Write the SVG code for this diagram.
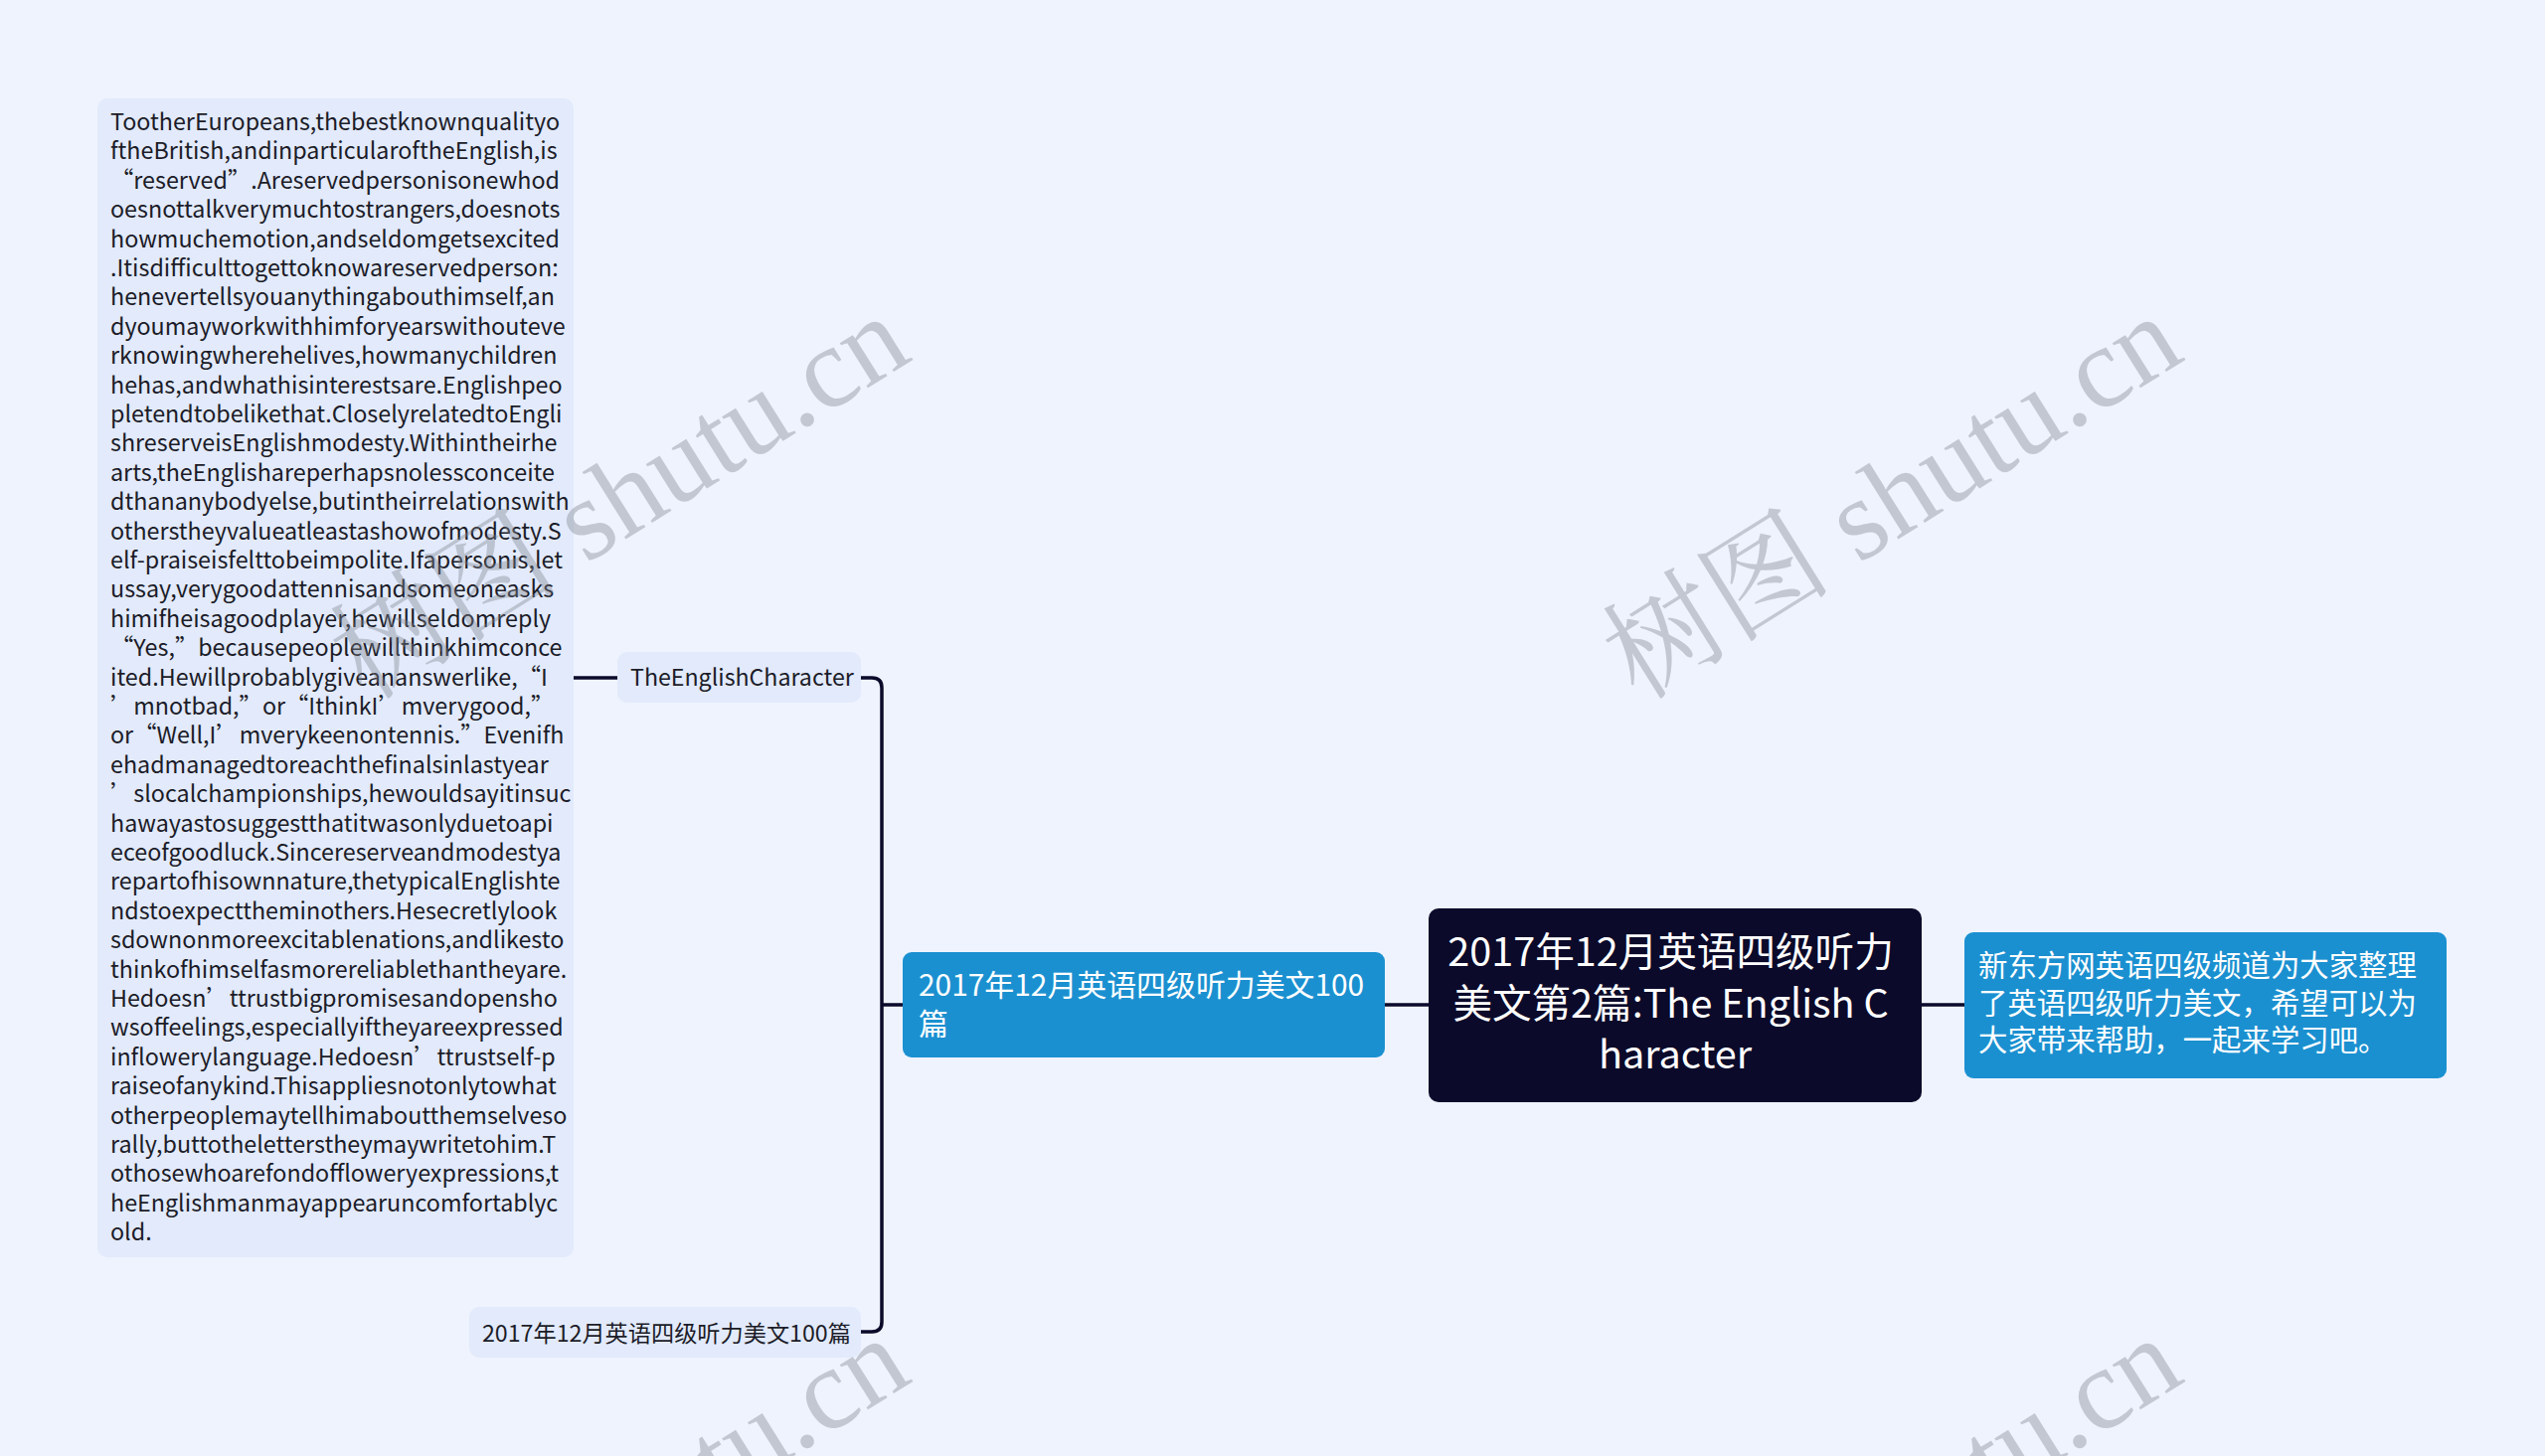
<svg xmlns="http://www.w3.org/2000/svg" width="2560" height="1465" viewBox="0 0 2560 1465">
<style>
.bg{fill:#eef3fd}
.soft{fill:#e2eafb}
.blue{fill:#1b90d0}
.root{fill:#0b0a2a}
.t{font-family:"Noto Sans CJK SC","Noto Sans",sans-serif}
.body{font-size:23.3px;fill:#1c1c28}
.lbl{font-size:23.2px;fill:#1c1c28}
.wt{fill:#ffffff}
.conn{fill:none;stroke:#0b0a2a;stroke-width:3.5}
.wm{font-family:"Liberation Serif","Noto Serif CJK SC",serif;font-size:116px;fill:#7d828c;opacity:0.38}
</style>
<rect class="bg" x="0" y="0" width="2560" height="1465"/>
<g id="connectors">
<path class="conn" d="M577 682 H621"/>
<path class="conn" d="M866 682 H877 Q887 682 887 692 V1330 Q887 1340 877 1340 H866"/>
<path class="conn" d="M887 1011 H908"/>
<path class="conn" d="M1393 1011 H1437"/>
<path class="conn" d="M1933 1011 H1976"/>
</g>
<g id="node-text">
<rect class="soft" x="98" y="99" width="479" height="1166" rx="10"/>
<text class="t body" x="111">
<tspan x="111" y="131">TootherEuropeans,thebestknownqualityo</tspan>
<tspan x="111" y="160.4">ftheBritish,andinparticularoftheEnglish,is</tspan>
<tspan x="111" y="189.8">“reserved”.Areservedpersonisonewhod</tspan>
<tspan x="111" y="219.2">oesnottalkverymuchtostrangers,doesnots</tspan>
<tspan x="111" y="248.6">howmuchemotion,andseldomgetsexcited</tspan>
<tspan x="111" y="278">.Itisdifficulttogettoknowareservedperson:</tspan>
<tspan x="111" y="307.4">henevertellsyouanythingabouthimself,an</tspan>
<tspan x="111" y="336.8">dyoumayworkwithhimforyearswithouteve</tspan>
<tspan x="111" y="366.2">rknowingwherehelives,howmanychildren</tspan>
<tspan x="111" y="395.6">hehas,andwhathisinterestsare.Englishpeo</tspan>
<tspan x="111" y="425">pletendtobelikethat.CloselyrelatedtoEngli</tspan>
<tspan x="111" y="454.4">shreserveisEnglishmodesty.Withintheirhe</tspan>
<tspan x="111" y="483.8">arts,theEnglishareperhapsnolessconceite</tspan>
<tspan x="111" y="513.2">dthananybodyelse,butintheirrelationswith</tspan>
<tspan x="111" y="542.6">otherstheyvalueatleastashowofmodesty.S</tspan>
<tspan x="111" y="572">elf-praiseisfelttobeimpolite.Ifapersonis,let</tspan>
<tspan x="111" y="601.4">ussay,verygoodattennisandsomeoneasks</tspan>
<tspan x="111" y="630.8">himifheisagoodplayer,hewillseldomreply</tspan>
<tspan x="111" y="660.2">“Yes,”becausepeoplewillthinkhimconce</tspan>
<tspan x="111" y="689.6">ited.Hewillprobablygiveananswerlike,“I</tspan>
<tspan x="111" y="719">’mnotbad,”or“IthinkI’mverygood,”</tspan>
<tspan x="111" y="748.4">or“Well,I’mverykeenontennis.”Evenifh</tspan>
<tspan x="111" y="777.8">ehadmanagedtoreachthefinalsinlastyear</tspan>
<tspan x="111" y="807.2">’slocalchampionships,hewouldsayitinsuc</tspan>
<tspan x="111" y="836.6">hawayastosuggestthatitwasonlyduetoapi</tspan>
<tspan x="111" y="866">eceofgoodluck.Sincereserveandmodestya</tspan>
<tspan x="111" y="895.4">repartofhisownnature,thetypicalEnglishte</tspan>
<tspan x="111" y="924.8">ndstoexpecttheminothers.Hesecretlylook</tspan>
<tspan x="111" y="954.2">sdownonmoreexcitablenations,andlikesto</tspan>
<tspan x="111" y="983.6">thinkofhimselfasmorereliablethantheyare.</tspan>
<tspan x="111" y="1013">Hedoesn’ttrustbigpromisesandopensho</tspan>
<tspan x="111" y="1042.4">wsoffeelings,especiallyiftheyareexpressed</tspan>
<tspan x="111" y="1071.8">inflowerylanguage.Hedoesn’ttrustself-p</tspan>
<tspan x="111" y="1101.2">raiseofanykind.Thisappliesnotonlytowhat</tspan>
<tspan x="111" y="1130.6">otherpeoplemaytellhimaboutthemselveso</tspan>
<tspan x="111" y="1160">rally,buttotheletterstheymaywritetohim.T</tspan>
<tspan x="111" y="1189.4">othosewhoarefondoffloweryexpressions,t</tspan>
<tspan x="111" y="1218.8">heEnglishmanmayappearuncomfortablyc</tspan>
<tspan x="111" y="1248.2">old.</tspan>
</text>
</g>
<g id="node-english-character">
<rect class="soft" x="621" y="656" width="245" height="51" rx="10"/>
<text class="t lbl" x="634" y="690">TheEnglishCharacter</text>
</g>
<g id="node-100-small">
<rect class="soft" x="472" y="1315" width="394" height="51" rx="10"/>
<text class="t lbl" x="485" y="1350">2017年12月英语四级听力美文100篇</text>
</g>
<g id="node-100-blue">
<rect class="blue" x="908" y="958" width="485" height="106" rx="9"/>
<text class="t wt" font-size="29.9">
<tspan x="924" y="1002">2017年12月英语四级听力美文100</tspan>
<tspan x="924" y="1041">篇</tspan>
</text>
</g>
<g id="node-root">
<rect class="root" x="1437" y="914" width="496" height="195" rx="10"/>
<text class="t wt" font-size="39.6" text-anchor="middle">
<tspan x="1685" y="972">2017年12月英语四级听力</tspan>
<tspan x="1685" y="1024">美文第2篇:The English C</tspan>
<tspan x="1685" y="1075">haracter</tspan>
</text>
</g>
<g id="node-right">
<rect class="blue" x="1976" y="938" width="485" height="147" rx="9"/>
<text class="t wt" font-size="29.4">
<tspan x="1990" y="982">新东方网英语四级频道为大家整理</tspan>
<tspan x="1990" y="1020">了英语四级听力美文，希望可以为</tspan>
<tspan x="1990" y="1057">大家带来帮助，一起来学习吧。</tspan>
</text>
</g>
<g id="watermarks">
<text class="wm" transform="translate(368 706) rotate(-32)">树图 shutu.cn</text>
<text class="wm" transform="translate(1648 706) rotate(-32)">树图 shutu.cn</text>
<text class="wm" transform="translate(368 1734) rotate(-32)">树图 shutu.cn</text>
<text class="wm" transform="translate(1648 1734) rotate(-32)">树图 shutu.cn</text>
</g>
</svg>
